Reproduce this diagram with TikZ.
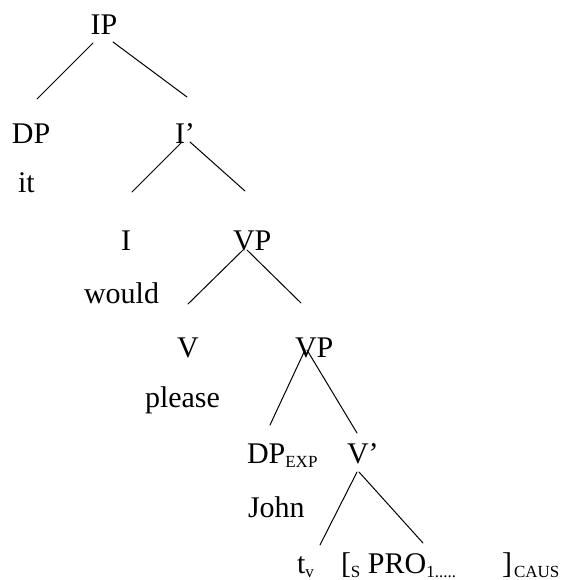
\documentclass[tikz,border=0pt]{standalone}
\usepackage{fontspec}
\setmainfont{Liberation Serif}
\newcommand\lowsub[1]{\raisebox{-4pt}{\fontsize{17}{17}\selectfont #1}}
\tikzset{
  lbl/.style={inner sep=0pt, outer sep=0pt, anchor=base west,
              font=\fontsize{30}{36}\selectfont},
  branch/.style={line width=1pt, line cap=round}
}
\begin{document}
\begin{tikzpicture}[x=1pt, y=-1pt]
  \useasboundingbox[fill=white] (0,0) rectangle (560,580);

  % category labels and words (positions are baselines)
  \node[lbl, anchor=base] (ip)    at (104,35)  {IP};
  \node[lbl] (dp)      at (12,143)  {DP};
  \node[lbl] (ibar)    at (175,143) {I’};
  \node[lbl] (it)      at (18,192)  {it};
  \node[lbl, anchor=base] (i) at (126,250) {I};
  \node[lbl] (vp)      at (233,250) {VP};
  \node[lbl] (would)   at (84,303)  {would};
  \node[lbl] (v)       at (177,357) {V};
  \node[lbl] (vp2)     at (295,357) {VP};
  \node[lbl] (please)  at (145,407) {please};
  \node[lbl] (dpexp)   at (247,463) {DP\lowsub{EXP}};
  \node[lbl] (vbar)    at (347,463) {V’};
  \node[lbl] (john)    at (248,517) {John};
  \node[lbl] (tv)      at (297,573) {t\lowsub{v}};
  \node[lbl] (clause)  at (341,573)
    {[\lowsub{S} PRO\lowsub{1.....}\hspace{46pt}]\hspace{2pt}\lowsub{CAUS}};

  % branch end points
  \coordinate (ip-l)   at (93,43);   \coordinate (dp-t)   at (37,99);
  \coordinate (ip-r)   at (113,42);  \coordinate (ibar-t) at (187,97);
  \coordinate (ibar-l) at (182,142); \coordinate (i-t)    at (132,192);
  \coordinate (ibar-r) at (190,142); \coordinate (vp-t)   at (245,191);
  \coordinate (vp-l)   at (243,250); \coordinate (v-t)    at (188,304);
  \coordinate (vp-r)   at (247,250); \coordinate (vp2-t)  at (301,303);
  \coordinate (vp2-l)  at (305,350); \coordinate (dpexp-t) at (270,425);
  \coordinate (vp2-r)  at (307,350); \coordinate (vbar-t) at (357,433);
  \coordinate (vbar-l) at (357,472); \coordinate (tv-t)   at (320,545);
  \coordinate (vbar-r) at (359,472); \coordinate (clause-t) at (423,543);

  % branches
  \draw[branch] (ip-l) -- (dp-t);
  \draw[branch] (ip-r) -- (ibar-t);
  \draw[branch] (ibar-l) -- (i-t);
  \draw[branch] (ibar-r) -- (vp-t);
  \draw[branch] (vp-l) -- (v-t);
  \draw[branch] (vp-r) -- (vp2-t);
  \draw[branch] (vp2-l) -- (dpexp-t);
  \draw[branch] (vp2-r) -- (vbar-t);
  \draw[branch] (vbar-l) -- (tv-t);
  \draw[branch] (vbar-r) -- (clause-t);
\end{tikzpicture}
\end{document}
